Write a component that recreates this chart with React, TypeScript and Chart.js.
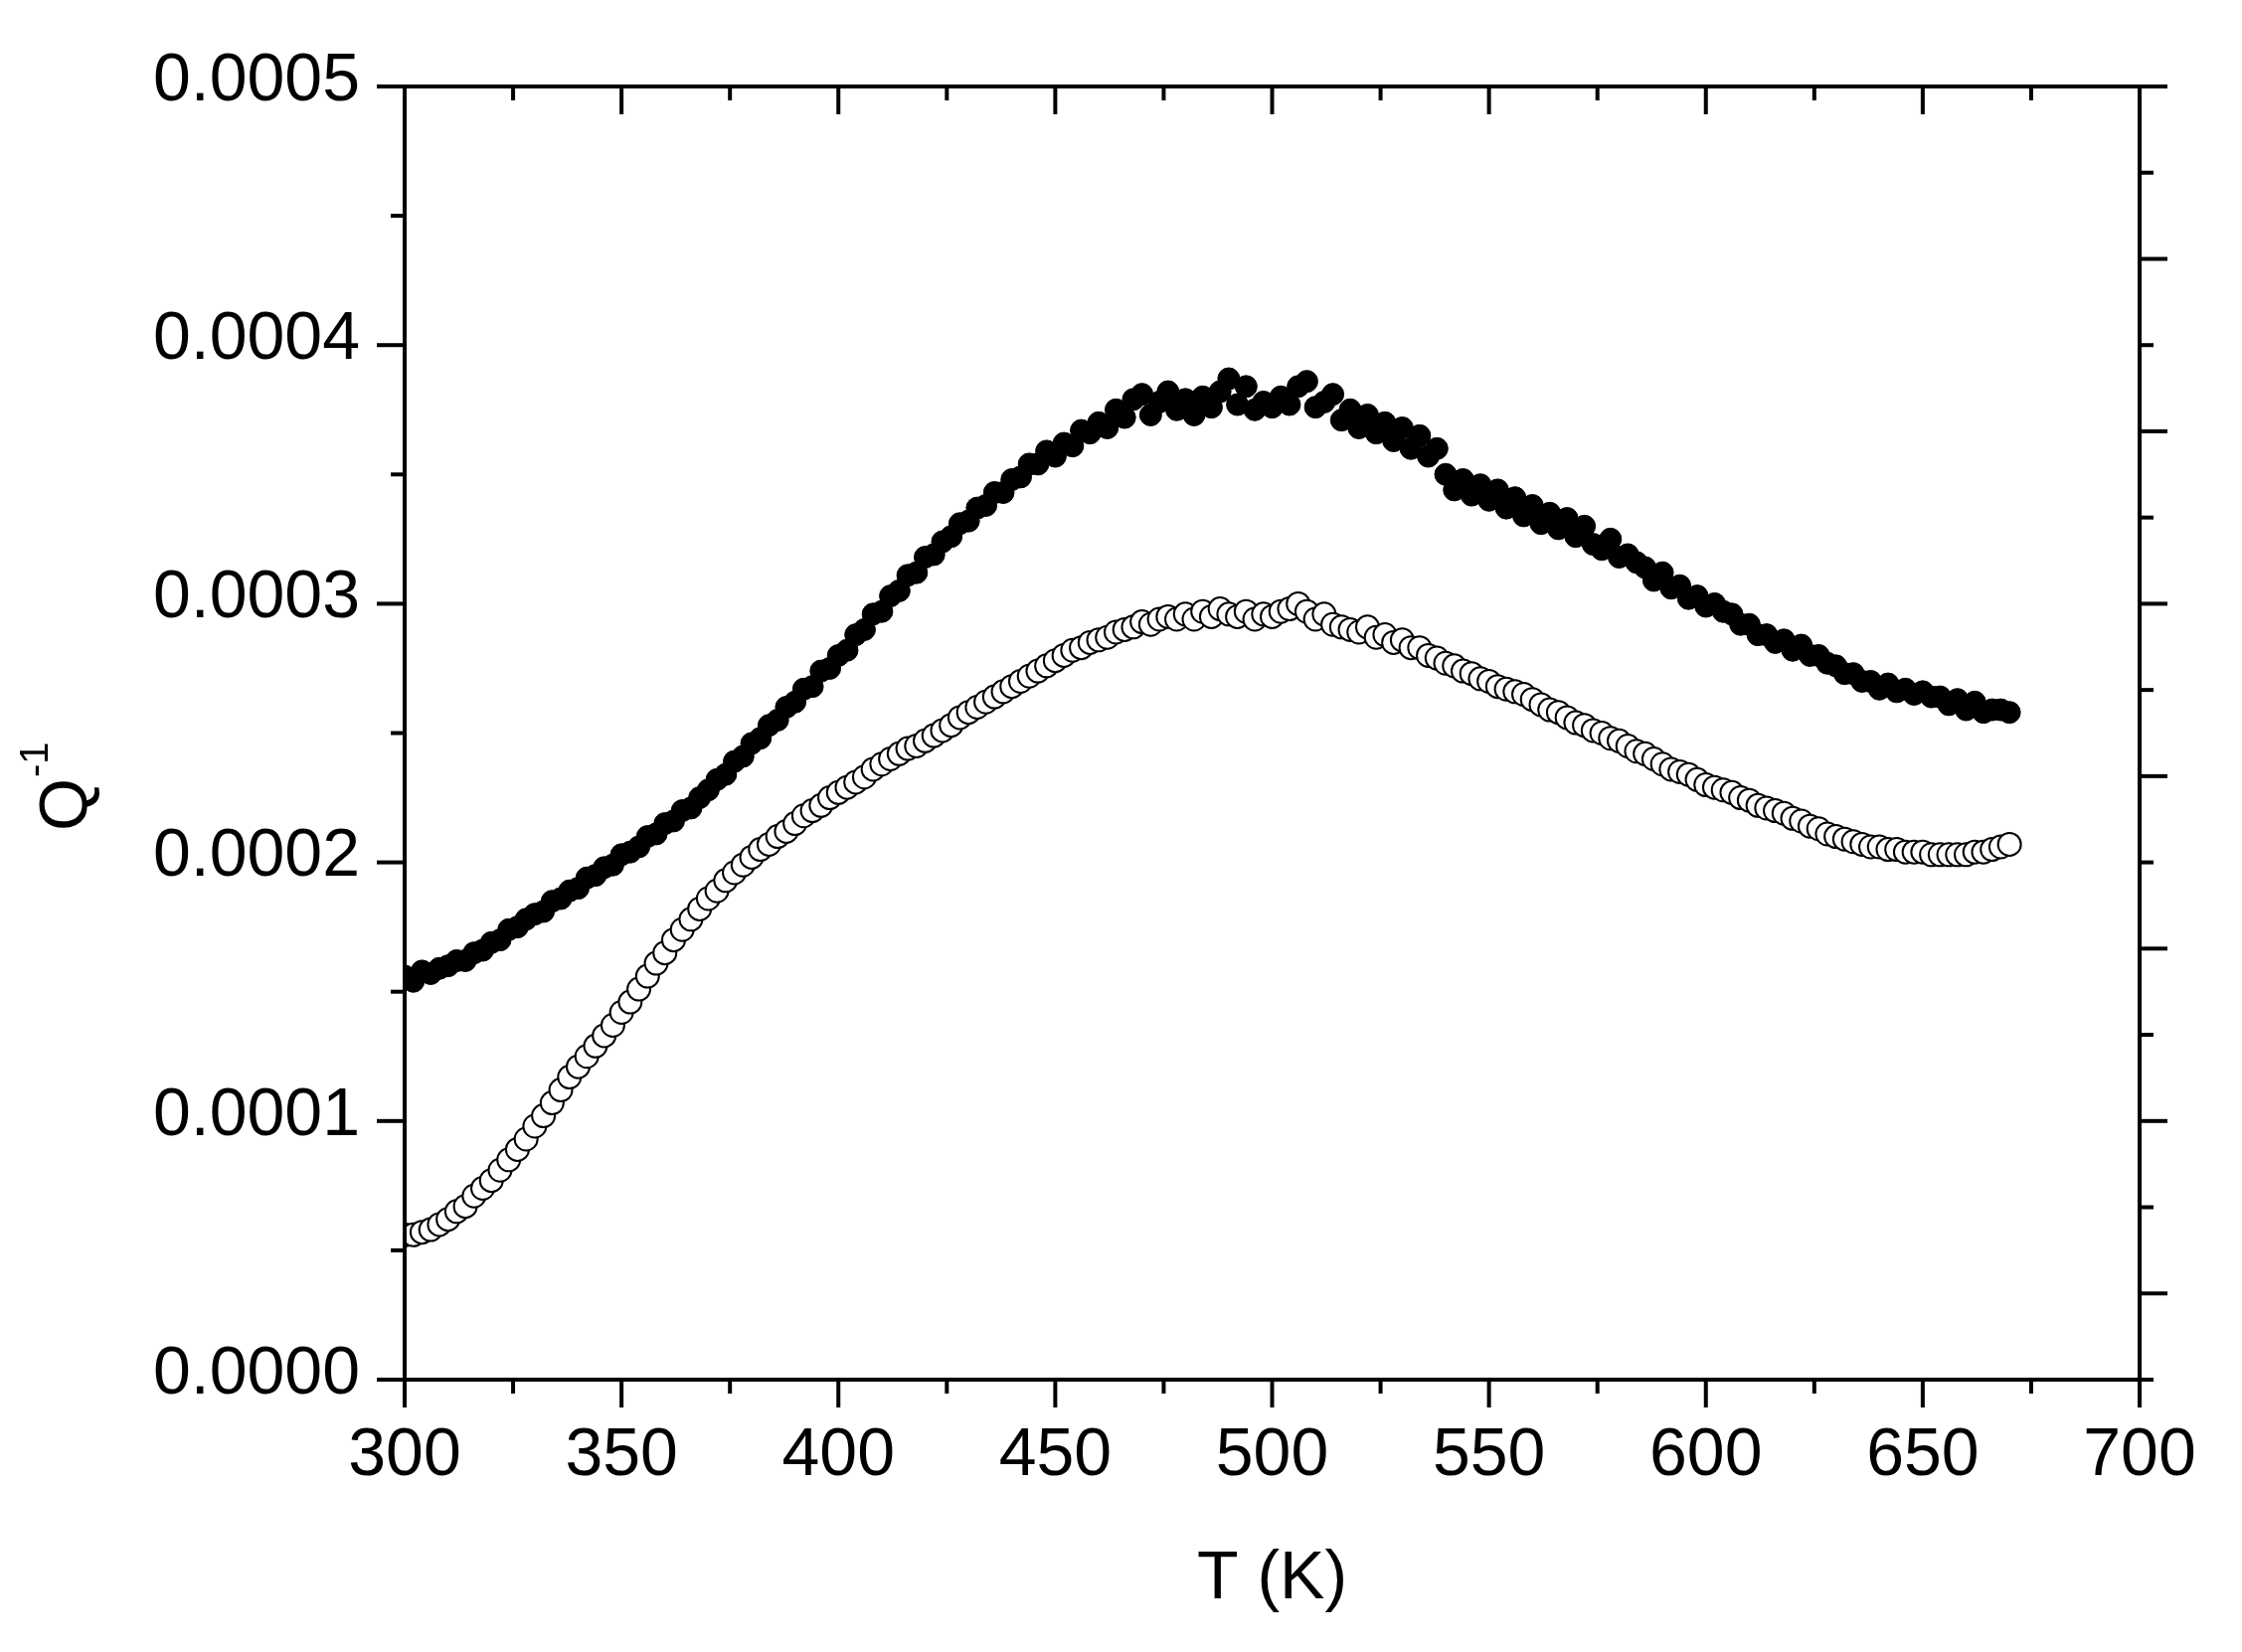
import React, { useEffect, useRef } from 'react';
import { Chart, registerables } from 'chart.js';
import type { Plugin } from 'chart.js';

Chart.register(...registerables);

// Temperature (K), every 2 K
const temperatures = [
  300, 302, 304, 306, 308, 310, 312, 314, 316, 318,
  320, 322, 324, 326, 328, 330, 332, 334, 336, 338,
  340, 342, 344, 346, 348, 350, 352, 354, 356, 358,
  360, 362, 364, 366, 368, 370, 372, 374, 376, 378,
  380, 382, 384, 386, 388, 390, 392, 394, 396, 398,
  400, 402, 404, 406, 408, 410, 412, 414, 416, 418,
  420, 422, 424, 426, 428, 430, 432, 434, 436, 438,
  440, 442, 444, 446, 448, 450, 452, 454, 456, 458,
  460, 462, 464, 466, 468, 470, 472, 474, 476, 478,
  480, 482, 484, 486, 488, 490, 492, 494, 496, 498,
  500, 502, 504, 506, 508, 510, 512, 514, 516, 518,
  520, 522, 524, 526, 528, 530, 532, 534, 536, 538,
  540, 542, 544, 546, 548, 550, 552, 554, 556, 558,
  560, 562, 564, 566, 568, 570, 572, 574, 576, 578,
  580, 582, 584, 586, 588, 590, 592, 594, 596, 598,
  600, 602, 604, 606, 608, 610, 612, 614, 616, 618,
  620, 622, 624, 626, 628, 630, 632, 634, 636, 638,
  640, 642, 644, 646, 648, 650, 652, 654, 656, 658,
  660, 662, 664, 666, 668, 670,
];

// Q^-1 in units of 1e-6, solid circles (upper curve)
const filledQ = [
  156, 154, 158, 157, 159, 160, 162, 162, 165, 166,
  169, 170, 174, 175, 178, 180, 181, 185, 186, 189,
  190, 194, 195, 198, 199, 203, 204, 206, 210, 211,
  215, 216, 220, 221, 225, 228, 232, 234, 239, 241,
  246, 248, 253, 255, 260, 262, 267, 268, 274, 275,
  280, 282, 288, 290, 296, 297, 303, 305, 311, 312,
  318, 319, 324, 326, 331, 332, 337, 338, 343, 343,
  348, 349, 354, 354, 359, 357, 362, 361, 367, 366,
  370, 368, 375, 372, 379, 381, 373, 378, 382, 375,
  379, 373, 380, 376, 382, 387, 377, 384, 375, 378,
  376, 380, 377, 384, 386, 376, 378, 381, 371, 375,
  368, 373, 366, 370, 363, 368, 360, 365, 357, 360,
  350, 344, 348, 342, 346, 340, 344, 337, 341, 334,
  338, 331, 335, 329, 333, 326, 330, 323, 321, 325,
  318, 319, 316, 314, 309, 312, 306, 307, 302, 303,
  299, 300, 297, 296, 292, 292, 288, 288, 285, 286,
  282, 284, 280, 280, 277, 276, 273, 273, 270, 270,
  267, 269, 266, 267, 265, 266, 264, 264, 261, 263,
  259, 262, 258, 259, 259, 258,
];

// Q^-1 in units of 1e-6, open circles (lower curve)
const openQ = [
  56, 56, 57, 58, 60, 62, 65, 67, 71, 74,
  77, 81, 85, 89, 93, 98, 102, 107, 112, 117,
  121, 125, 129, 133, 137, 142, 146, 151, 156, 161,
  165, 170, 174, 178, 182, 186, 189, 193, 196, 199,
  202, 205, 207, 210, 212, 215, 218, 220, 222, 225,
  227, 229, 231, 233, 236, 238, 240, 242, 244, 245,
  247, 249, 251, 253, 256, 258, 260, 262, 264, 266,
  268, 270, 272, 274, 276, 278, 280, 282, 283, 285,
  286, 287, 289, 290, 291, 293, 292, 294, 295, 294,
  296, 294, 297, 295, 298, 296, 295, 297, 294, 296,
  295, 297, 298, 300, 297, 294, 296, 292, 291, 290,
  289, 291, 287, 288, 285, 286, 283, 283, 280, 279,
  277, 276, 274, 273, 271, 270, 268, 267, 266, 265,
  263, 261, 259, 258, 256, 254, 253, 251, 250, 248,
  247, 245, 243, 242, 240, 238, 236, 235, 234, 232,
  230, 229, 228, 227, 225, 224, 222, 221, 220, 219,
  217, 216, 214, 213, 211, 210, 209, 208, 207, 206,
  206, 205, 205, 204, 204, 204, 203, 203, 203, 203,
  203, 204, 204, 205, 206, 207,
];

const xMajorTicks = [300, 350, 400, 450, 500, 550, 600, 650, 700];
const xMinorTicks = [325, 375, 425, 475, 525, 575, 625, 675];
const yMajorTicks = [0, 0.0001, 0.0002, 0.0003, 0.0004, 0.0005];
const yMinorTicks = [0.00005, 0.00015, 0.00025, 0.00035, 0.00045];
// right axis has its own (unlabelled) scale
const rightMajorTicks = [1, 3, 5, 7, 9, 11, 13, 15];
const rightMinorTicks = [0, 2, 4, 6, 8, 10, 12, 14];

const FONT = '"Liberation Sans", Arial, sans-serif';
const MAJOR = 28;
const MINOR = 14;

// Origin-style frame: outward ticks bottom/left/right, inward ticks on top
const frameAndTicks: Plugin = {
  id: 'frameAndTicks',
  afterDraw(chart) {
    const { ctx, chartArea: a, scales } = chart;
    const sx = scales.x;
    const sy = scales.y;
    const sy2 = scales.y2;

    ctx.save();
    ctx.strokeStyle = '#000';
    ctx.lineWidth = 4;
    ctx.lineCap = 'butt';
    const seg = (x1: number, y1: number, x2: number, y2: number) => {
      ctx.beginPath();
      ctx.moveTo(x1, y1);
      ctx.lineTo(x2, y2);
      ctx.stroke();
    };

    xMajorTicks.forEach((v) => {
      const p = sx.getPixelForValue(v);
      seg(p, a.bottom, p, a.bottom + MAJOR);
      seg(p, a.top, p, a.top + MAJOR);
    });
    xMinorTicks.forEach((v) => {
      const p = sx.getPixelForValue(v);
      seg(p, a.bottom, p, a.bottom + MINOR);
      seg(p, a.top, p, a.top + MINOR);
    });
    yMajorTicks.forEach((v) => {
      const p = sy.getPixelForValue(v);
      seg(a.left - MAJOR, p, a.left, p);
    });
    yMinorTicks.forEach((v) => {
      const p = sy.getPixelForValue(v);
      seg(a.left - MINOR, p, a.left, p);
    });
    rightMajorTicks.forEach((v) => {
      const p = sy2.getPixelForValue(v);
      seg(a.right, p, a.right + MAJOR, p);
    });
    rightMinorTicks.forEach((v) => {
      const p = sy2.getPixelForValue(v);
      seg(a.right, p, a.right + MINOR, p);
    });

    ctx.lineJoin = 'miter';
    ctx.strokeRect(a.left, a.top, a.right - a.left, a.bottom - a.top);

    // axis titles
    ctx.fillStyle = '#000';
    ctx.font = `68px ${FONT}`;
    ctx.textAlign = 'center';
    ctx.textBaseline = 'alphabetic';
    ctx.fillText('T (K)', (a.left + a.right) / 2, a.bottom + 220);

    ctx.translate(a.left - 320, a.top + 749);
    ctx.rotate(-Math.PI / 2);
    ctx.textAlign = 'left';
    ctx.fillText('Q', 0, 0);
    const qw = ctx.measureText('Q').width;
    ctx.font = `40px ${FONT}`;
    ctx.fillText('-1', qw + 1, -39);
    ctx.restore();
  },
};

export default function App() {
  const canvasRef = useRef<HTMLCanvasElement>(null);

  useEffect(() => {
    document.body.style.margin = '0';
    if (!canvasRef.current) return;

    const chart = new Chart(canvasRef.current, {
      type: 'scatter',
      data: {
        datasets: [
          {
            label: 'solid',
            data: temperatures.map((t, i) => ({ x: t, y: filledQ[i] * 1e-6 })),
            pointStyle: 'circle',
            pointRadius: 11,
            pointBackgroundColor: '#000',
            pointBorderColor: '#000',
            pointBorderWidth: 1,
            showLine: false,
          },
          {
            label: 'open',
            data: temperatures.map((t, i) => ({ x: t, y: openQ[i] * 1e-6 })),
            pointStyle: 'circle',
            pointRadius: 11.5,
            pointBackgroundColor: '#fff',
            pointBorderColor: '#000',
            pointBorderWidth: 2,
            showLine: false,
          },
        ],
      },
      options: {
        responsive: false,
        devicePixelRatio: 1,
        animation: false,
        events: [],
        layout: { padding: 0 },
        plugins: {
          legend: { display: false },
          tooltip: { enabled: false },
        },
        scales: {
          x: {
            type: 'linear',
            position: 'bottom',
            min: 300,
            max: 700,
            grid: { display: false, drawTicks: false },
            border: { display: false },
            ticks: {
              stepSize: 50,
              autoSkip: false,
              maxRotation: 0,
              padding: 36,
              color: '#000',
              font: { family: FONT, size: 68 },
              callback: (v) => String(v),
            },
            afterFit: (s) => {
              s.height = 274;
            },
          },
          x2: {
            type: 'linear',
            axis: 'x',
            position: 'top',
            min: 300,
            max: 700,
            grid: { display: false, drawTicks: false },
            border: { display: false },
            ticks: { display: false },
            afterFit: (s) => {
              s.height = 87;
            },
          },
          y: {
            type: 'linear',
            position: 'left',
            min: 0,
            max: 0.0005,
            grid: { display: false, drawTicks: false },
            border: { display: false },
            ticks: {
              stepSize: 0.0001,
              padding: 45,
              labelOffset: -5,
              color: '#000',
              font: { family: FONT, size: 68 },
              callback: (v) => Number(v).toFixed(4),
            },
            afterFit: (s) => {
              s.width = 407;
            },
          },
          y2: {
            type: 'linear',
            axis: 'y',
            position: 'right',
            min: 0,
            max: 15,
            grid: { display: false, drawTicks: false },
            border: { display: false },
            ticks: { display: false },
            afterFit: (s) => {
              s.width = 103;
            },
          },
        },
      },
      plugins: [frameAndTicks],
    });

    return () => {
      chart.destroy();
    };
  }, []);

  return (
    <div style={{ width: 2255, height: 1662, background: '#fff' }}>
      <canvas ref={canvasRef} width={2255} height={1662} style={{ display: 'block' }} />
    </div>
  );
}
